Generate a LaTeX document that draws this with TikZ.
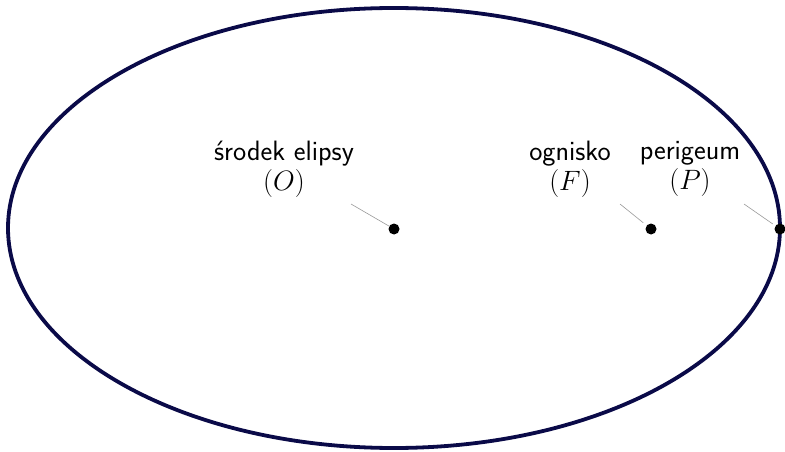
\documentclass[tikz,border=0pt]{standalone}
\usepackage{fix-cm}
\usepackage{fontspec}
\usetikzlibrary{calc}
\definecolor{navy}{RGB}{10,10,72}
\tikzset{
  orbit/.style={draw=navy,line width=3.8pt},
  pt/.style={circle,fill=black,inner sep=0pt,minimum size=11pt},
  lbl/.style={align=center,font=\sffamily\fontsize{28}{30}\selectfont,inner sep=0pt},
  leader/.style={draw=gray!80,line width=0.6pt}
}
\begin{document}
\begin{tikzpicture}[x=1pt,y=-1pt]
\useasboundingbox (0,0) rectangle (785,452);
\draw[orbit] (394,228) ellipse [x radius=386, y radius=220];
\node[pt] (O) at (394,229) {};
\node[pt] (F) at (651,229) {};
\node[pt] (P) at (780,229) {};
\node[lbl] (lO) at (284,169) {środek elipsy\\$(O)$};
\node[lbl] (lF) at (570,169) {ognisko\\$(F)$};
\node[lbl] (lP) at (690,169) {perigeum\\$(P)$};
\coordinate (aO) at (351,204);
\coordinate (aF) at (620,204);
\coordinate (aP) at (744,204);
\draw[leader] (aO) -- ($(aO)!0.88!(O)$);
\draw[leader] (aF) -- ($(aF)!0.75!(F)$);
\draw[leader] (aP) -- ($(aP)!0.8!(P)$);
\end{tikzpicture}
\end{document}
